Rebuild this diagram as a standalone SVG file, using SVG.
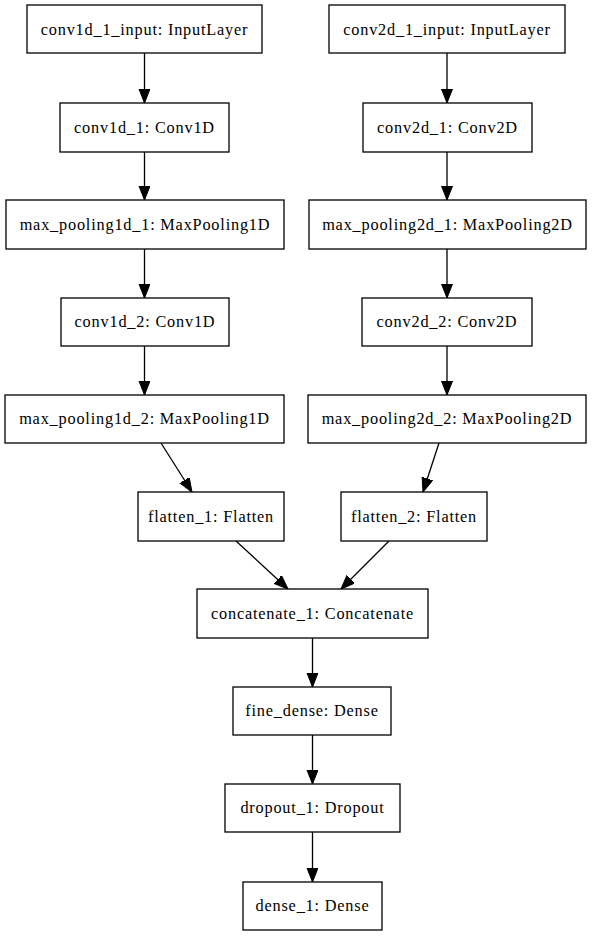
<svg xmlns="http://www.w3.org/2000/svg" width="592" height="936" viewBox="0 0 592 936">
<style>
.n rect{fill:#fff;stroke:#000;stroke-width:1.3}
.n text{font-family:"Liberation Serif","Times New Roman",serif;font-size:16.3px;letter-spacing:0.8px;text-anchor:middle;fill:#000}
.e path{fill:none;stroke:#000;stroke-width:1.3;marker-end:url(#ah)}
</style>
<defs>
<marker id="ah" markerUnits="userSpaceOnUse" markerWidth="16" markerHeight="12" refX="14" refY="5.5" orient="auto" viewBox="0 0 16 12">
<path d="M0,0 L14,5.5 L0,11 Z" fill="#000" stroke="#000" stroke-width="1"/>
</marker>
</defs>
<rect width="592" height="936" fill="#fff"/>
<g class="e" id="edges">
<path d="M144.5,53 L144.5,103"/>
<path d="M144.5,152 L144.5,200"/>
<path d="M144.5,249 L144.5,298"/>
<path d="M144.5,346 L144.5,395"/>
<path d="M161,443 L192,492"/>
<path d="M447,53 L447,103"/>
<path d="M447,152 L447,200"/>
<path d="M447,249 L447,298"/>
<path d="M447,346 L447,395"/>
<path d="M439,443 L423,492"/>
<path d="M236,541 L288,589"/>
<path d="M389,541 L341,589"/>
<path d="M312.5,638 L312.5,687"/>
<path d="M312.5,735 L312.5,784"/>
<path d="M312.5,832 L312.5,882"/>
</g>
<g class="n" id="conv1d_1_input"><rect x="27" y="5" width="235" height="48"/><text x="144.5" y="34.5">conv1d_1_input: InputLayer</text></g>
<g class="n" id="conv1d_1"><rect x="60" y="103" width="169" height="49"/><text x="144.5" y="132.5">conv1d_1: Conv1D</text></g>
<g class="n" id="max_pooling1d_1"><rect x="6" y="200" width="278" height="49"/><text x="145" y="229.5">max_pooling1d_1: MaxPooling1D</text></g>
<g class="n" id="conv1d_2"><rect x="61" y="298" width="168" height="48"/><text x="145" y="327">conv1d_2: Conv1D</text></g>
<g class="n" id="max_pooling1d_2"><rect x="5" y="395" width="279" height="48"/><text x="144.5" y="424">max_pooling1d_2: MaxPooling1D</text></g>
<g class="n" id="flatten_1"><rect x="138" y="492" width="146" height="49"/><text x="211" y="521.5">flatten_1: Flatten</text></g>
<g class="n" id="conv2d_1_input"><rect x="329" y="5" width="236" height="48"/><text x="447" y="34.5">conv2d_1_input: InputLayer</text></g>
<g class="n" id="conv2d_1"><rect x="363" y="103" width="169" height="49"/><text x="447.5" y="132.5">conv2d_1: Conv2D</text></g>
<g class="n" id="max_pooling2d_1"><rect x="309" y="200" width="277" height="49"/><text x="447.5" y="229.5">max_pooling2d_1: MaxPooling2D</text></g>
<g class="n" id="conv2d_2"><rect x="362" y="298" width="170" height="48"/><text x="447" y="327">conv2d_2: Conv2D</text></g>
<g class="n" id="max_pooling2d_2"><rect x="308" y="395" width="278" height="48"/><text x="447" y="424">max_pooling2d_2: MaxPooling2D</text></g>
<g class="n" id="flatten_2"><rect x="341" y="492" width="146" height="49"/><text x="414" y="521.5">flatten_2: Flatten</text></g>
<g class="n" id="concatenate_1"><rect x="197" y="589" width="231" height="49"/><text x="312.5" y="618.5">concatenate_1: Concatenate</text></g>
<g class="n" id="fine_dense"><rect x="233" y="687" width="158" height="48"/><text x="312" y="716">fine_dense: Dense</text></g>
<g class="n" id="dropout_1"><rect x="225" y="784" width="175" height="48"/><text x="312.5" y="813">dropout_1: Dropout</text></g>
<g class="n" id="dense_1"><rect x="243" y="882" width="139" height="48"/><text x="312.5" y="911">dense_1: Dense</text></g>
</svg>
